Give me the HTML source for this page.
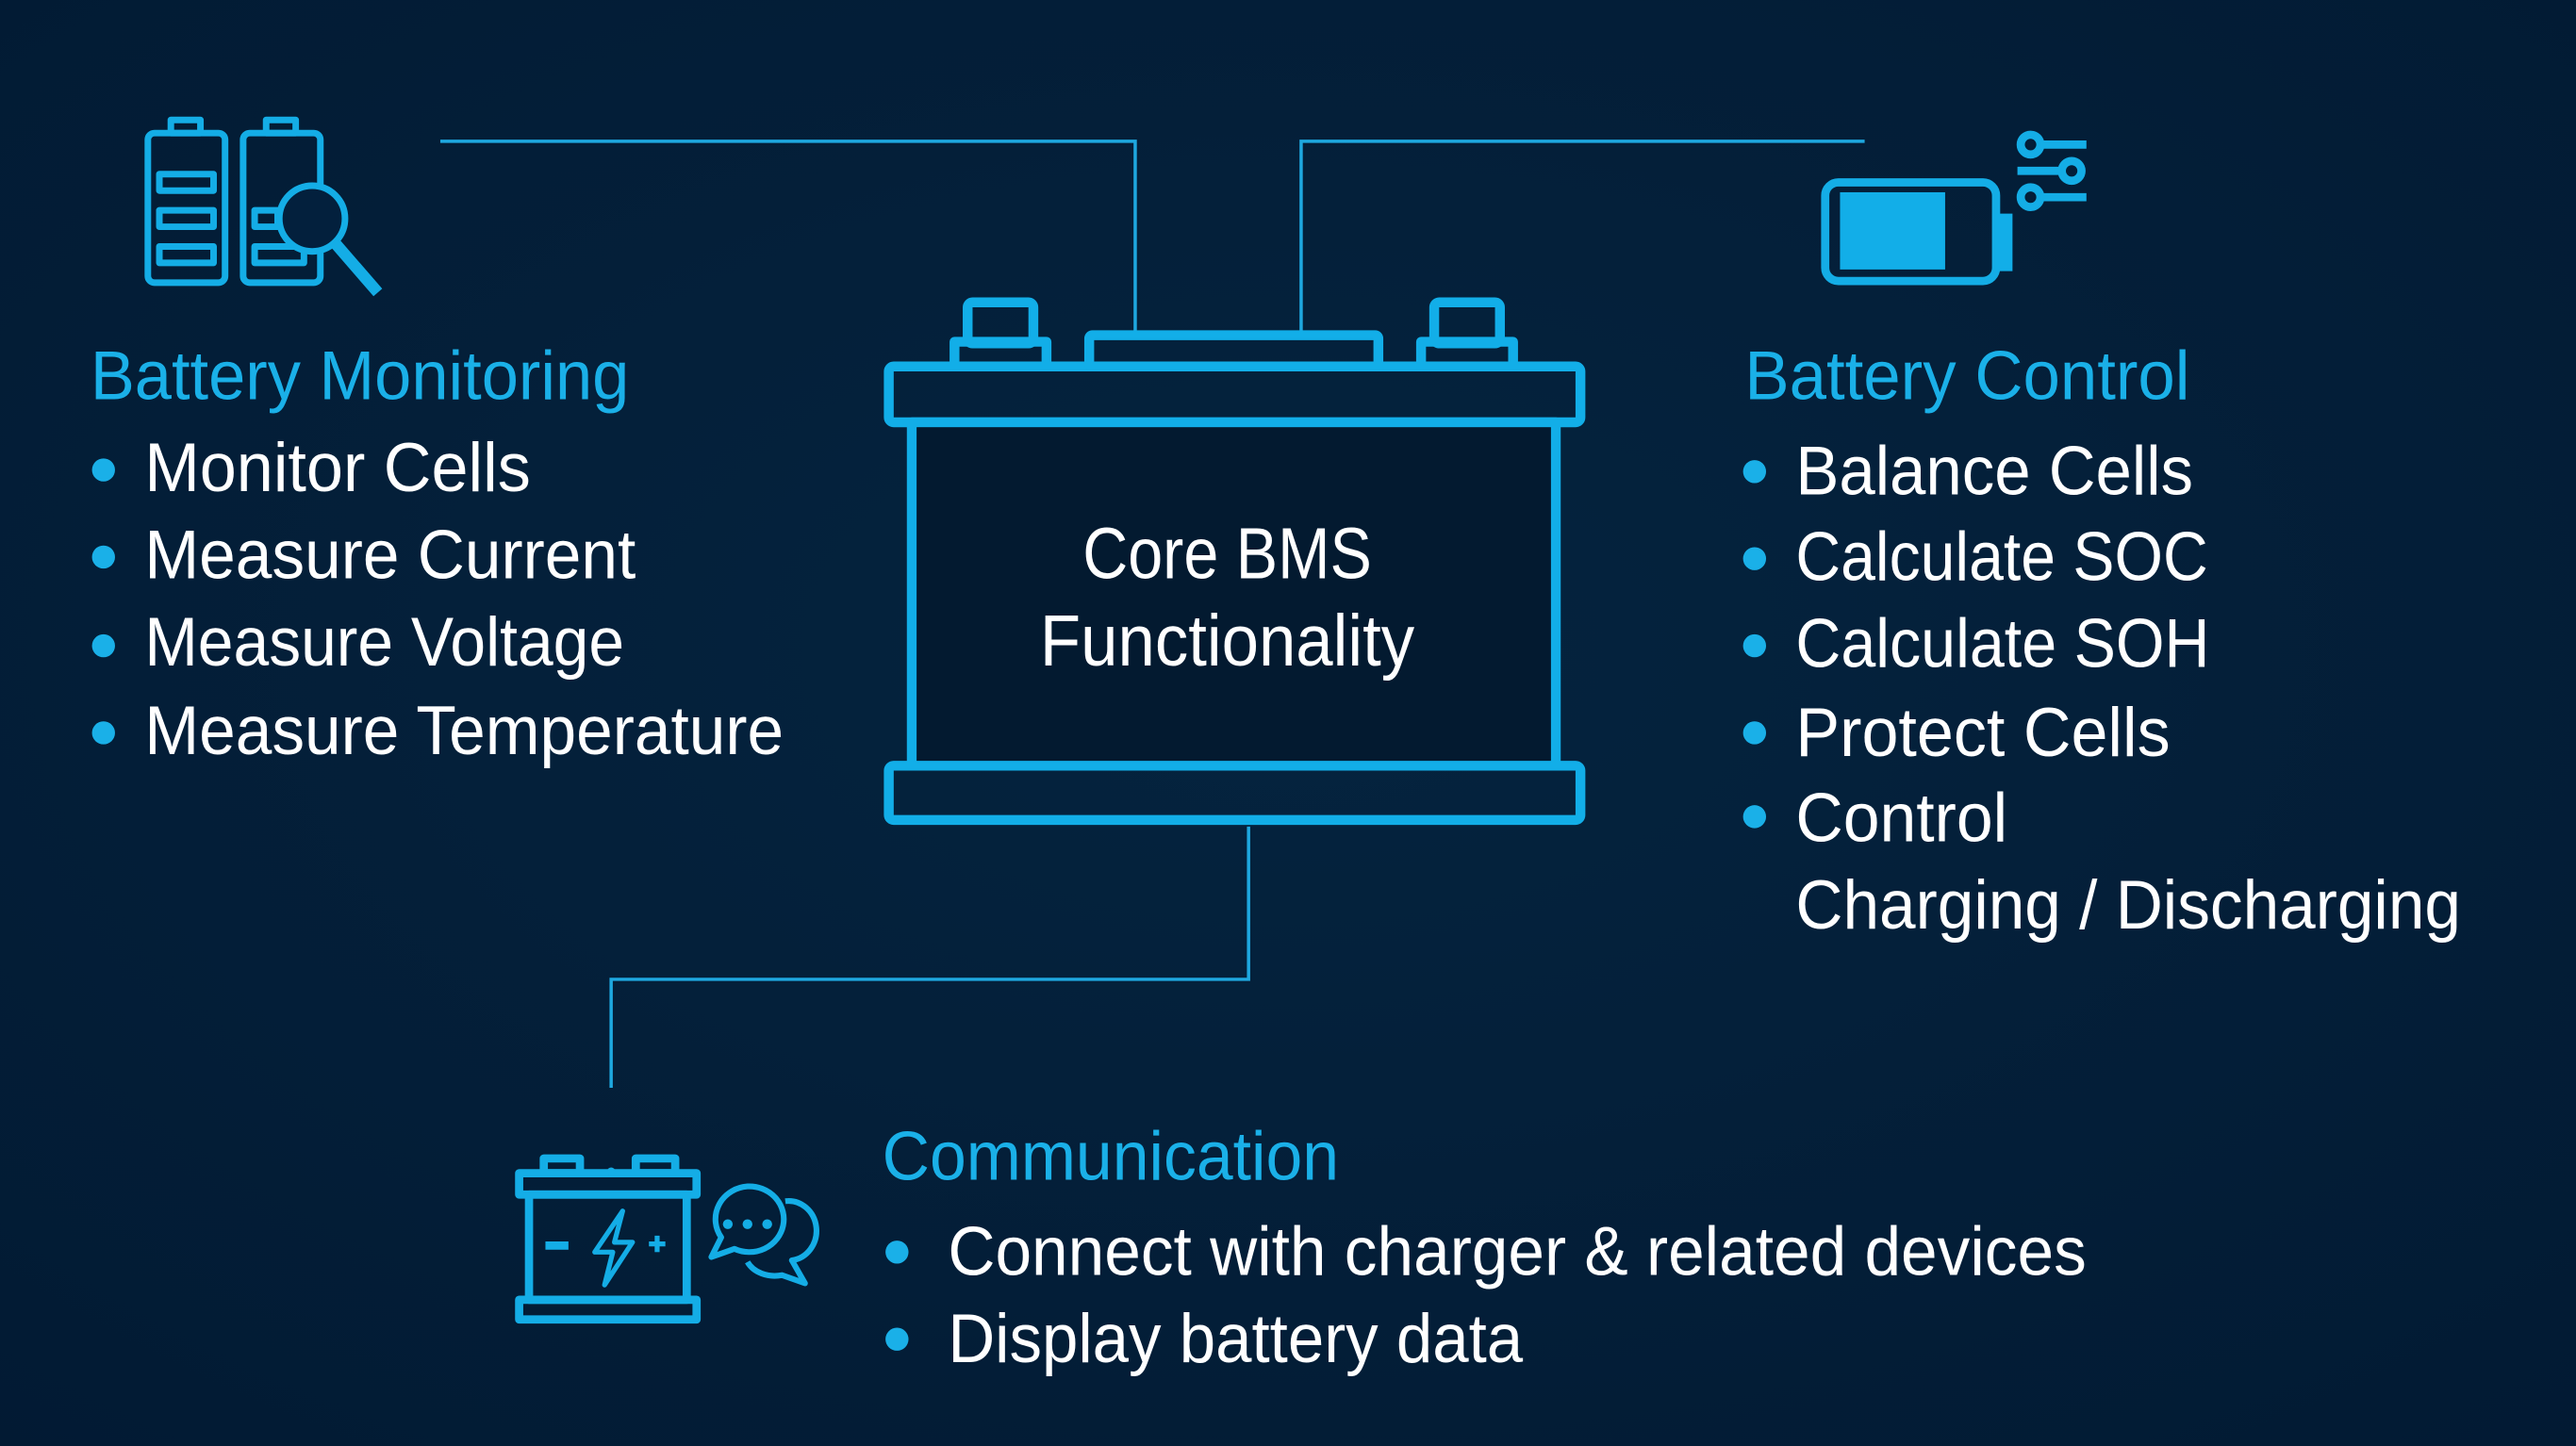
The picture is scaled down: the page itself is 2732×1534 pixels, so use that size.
<!DOCTYPE html>
<html><head><meta charset="utf-8"><style>
html,body{margin:0;padding:0;background:#03203d;}
svg{display:block}
text{font-family:"Liberation Sans Narrow","Liberation Sans",sans-serif;}
</style></head><body>
<svg width="2732" height="1534" viewBox="0 0 1568 880" preserveAspectRatio="none" xmlns="http://www.w3.org/2000/svg">
<defs><radialGradient id="bg" cx="50%" cy="45%" r="75%"><stop offset="0" stop-color="#05243f"/><stop offset="1" stop-color="#021a33"/></radialGradient></defs>
<rect width="1568" height="880" fill="url(#bg)"/>
<g fill="none" stroke="#1ea8e0" stroke-width="2">
<polyline points="268,86 691,86 691,203"/>
<polyline points="1135,86 792,86 792,203"/>
<polyline points="760,503 760,596 372,596 372,662"/>
</g>
<g fill="none" stroke="#12aee8" stroke-width="6" stroke-linejoin="round">
<rect x="541" y="223" width="421" height="34" rx="3"/>
<rect x="555" y="257" width="392" height="209"/>
<rect x="541" y="466" width="421" height="33" rx="3"/>
<rect x="589" y="184" width="40" height="25" rx="3"/>
<rect x="581" y="208" width="56" height="15"/>
<rect x="663" y="204" width="176" height="19" rx="2"/>
<rect x="873" y="184" width="40" height="25" rx="3"/>
<rect x="865" y="208" width="56" height="15"/>
</g>
<rect x="558" y="260" width="386" height="203" fill="#031a30"/>
<g fill="#fff" font-size="44" text-anchor="middle">
<text x="747" y="352" textLength="176" lengthAdjust="spacingAndGlyphs">Core BMS</text>
<text x="747" y="405" textLength="228" lengthAdjust="spacingAndGlyphs">Functionality</text>
</g>
<!-- monitoring icon -->
<g fill="none" stroke="#14ade6" stroke-width="4" stroke-linejoin="round">
<rect x="90" y="81" width="47" height="91" rx="4"/><rect x="104" y="73" width="18" height="8"/>
<rect x="97" y="106" width="33" height="10"/><rect x="97" y="128" width="33" height="10"/><rect x="97" y="150" width="33" height="10"/>
<rect x="148" y="81" width="47" height="91" rx="4"/><rect x="162" y="73" width="18" height="8"/>
<rect x="155" y="128" width="14" height="10"/><rect x="155" y="150" width="30" height="10"/>
<circle cx="190" cy="133" r="20" fill="#03203d"/>
<line x1="204" y1="148" x2="230" y2="178" stroke-width="7"/>
</g>
<!-- control icon -->
<g fill="none" stroke="#14ade6" stroke-width="5">
<rect x="1111" y="111" width="104" height="60" rx="8"/>
<circle cx="1236" cy="88" r="6"/><line x1="1242" y1="88" x2="1270" y2="88"/>
<circle cx="1261" cy="104" r="6"/><line x1="1228" y1="104" x2="1255" y2="104"/>
<circle cx="1236" cy="120" r="6"/><line x1="1242" y1="120" x2="1270" y2="120"/>
</g>
<rect x="1120" y="117" width="64" height="47" fill="#12aee8"/>
<rect x="1215" y="130" width="10" height="35" fill="#12aee8"/>
<!-- comm icon -->
<g fill="none" stroke="#14ade6" stroke-width="5" stroke-linejoin="round">
<rect x="316" y="714" width="108" height="13"/>
<rect x="322" y="727" width="96" height="64"/>
<rect x="316" y="791" width="108" height="12"/>
<rect x="331" y="705" width="22" height="9"/><rect x="387" y="705" width="24" height="9"/>
<line x1="332" y1="758" x2="346" y2="758"/>
<path d="M379 737 L362 762 L373 762 L368 782 L385 756 L374 756 Z" stroke-width="3"/>
<line x1="395" y1="757" x2="405" y2="757" stroke-width="3"/><line x1="400" y1="752" x2="400" y2="762" stroke-width="3"/>
<path d="M455 722 a21 20 0 1 1 -8 38 l-14 5 6 -12 a21 20 0 0 1 16 -31z" stroke-width="3.5"/>
<path d="M478 731 a15 16 0 0 1 4 36 l8 14 -14 -5 a18 14 0 0 1 -21 -8" stroke-width="3.5"/>
</g>
<g fill="#14ade6"><circle cx="443" cy="745" r="3"/><circle cx="455" cy="745" r="3"/><circle cx="467" cy="745" r="3"/><circle cx="372" cy="713" r="2.5"/></g>
<!-- text -->
<g fill="#1ab0e8" font-size="42">
<text x="55" y="243" textLength="328" lengthAdjust="spacingAndGlyphs">Battery Monitoring</text>
<text x="1062" y="243" textLength="271" lengthAdjust="spacingAndGlyphs">Battery Control</text>
<text x="537" y="718" textLength="278" lengthAdjust="spacingAndGlyphs">Communication</text>
</g>
<g fill="#1ab0e8">
<circle cx="63" cy="286" r="7"/><circle cx="63" cy="339" r="7"/><circle cx="63" cy="393" r="7"/><circle cx="63" cy="446" r="7"/>
<circle cx="1068" cy="287" r="7"/><circle cx="1068" cy="340" r="7"/><circle cx="1068" cy="393" r="7"/><circle cx="1068" cy="446" r="7"/><circle cx="1068" cy="497" r="7"/>
<circle cx="546" cy="762" r="7"/><circle cx="546" cy="815" r="7"/>
</g>
<g fill="#fff" font-size="42">
<text x="88" y="299" textLength="235" lengthAdjust="spacingAndGlyphs">Monitor Cells</text>
<text x="88" y="352" textLength="299" lengthAdjust="spacingAndGlyphs">Measure Current</text>
<text x="88" y="405" textLength="292" lengthAdjust="spacingAndGlyphs">Measure Voltage</text>
<text x="88" y="459" textLength="389" lengthAdjust="spacingAndGlyphs">Measure Temperature</text>
<text x="1093" y="301" textLength="242" lengthAdjust="spacingAndGlyphs">Balance Cells</text>
<text x="1093" y="353" textLength="251" lengthAdjust="spacingAndGlyphs">Calculate SOC</text>
<text x="1093" y="406" textLength="252" lengthAdjust="spacingAndGlyphs">Calculate SOH</text>
<text x="1093" y="460" textLength="228" lengthAdjust="spacingAndGlyphs">Protect Cells</text>
<text x="1093" y="512" textLength="129" lengthAdjust="spacingAndGlyphs">Control</text>
<text x="1093" y="565" textLength="405" lengthAdjust="spacingAndGlyphs">Charging / Discharging</text>
<text x="577" y="776" textLength="693" lengthAdjust="spacingAndGlyphs">Connect with charger &amp; related devices</text>
<text x="577" y="829" textLength="350" lengthAdjust="spacingAndGlyphs">Display battery data</text>
</g>
</svg>
</body></html>
